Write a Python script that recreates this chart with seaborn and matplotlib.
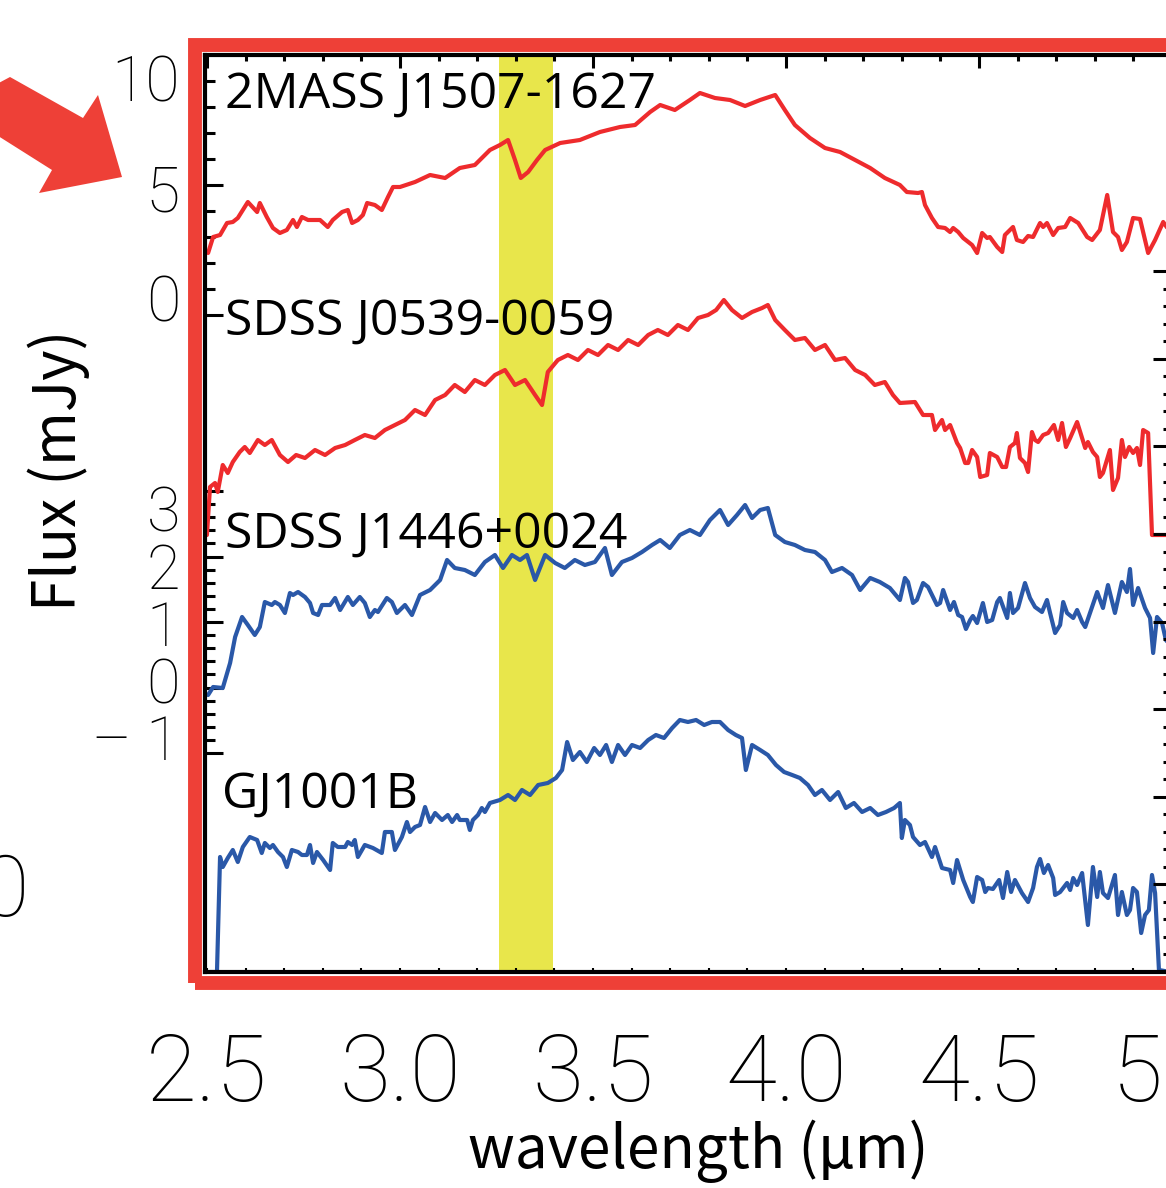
import numpy as np
import matplotlib
matplotlib.use("Agg")
import matplotlib.pyplot as plt
from matplotlib.patches import Rectangle, Polygon
from matplotlib.ticker import MultipleLocator, NullFormatter
import seaborn as sns

sns.set_style("white")
plt.rcParams['font.family'] = ['Open Sans', 'DejaVu Sans']

# ---------------- data (wavelength in micron, flux + offset in arbitrary units) -------------
names = ["2MASS J1507-1627", "SDSS J0539-0059", "SDSS J1446+0024", "GJ1001B"]
colors = ["#ee2b2d", "#ee2b2d", "#2a58a8", "#2a58a8"]

wl_2mass = [2.503,2.516,2.534,2.552,2.567,2.580,2.606,2.630,2.637,2.655,2.671,2.689,2.707,2.723,2.733,2.746,2.762,2.793,2.813,2.826,2.850,2.865,2.876,2.891,2.904,2.915,2.935,2.953,2.969,2.982,3.000,
            3.039,3.078,3.117,3.155,3.194,3.233,3.259,3.280,3.298,3.313,3.332,3.355,3.376,3.415,3.466,3.518,3.570,3.609,3.648,3.674,3.712,3.751,3.777,3.816,3.855,3.894,3.933,3.972,3.997,4.023,4.062,4.101,4.140,4.179,4.218,4.256,
            4.295,4.313,4.342,4.352,4.360,4.378,4.394,4.412,4.425,4.433,4.446,4.459,4.482,4.495,4.508,4.521,4.528,4.547,4.560,4.567,4.588,4.598,4.614,4.627,4.640,4.658,4.666,4.676,4.692,4.705,4.723,4.736,4.757,4.780,4.793,4.813,4.832,4.847,4.860,4.870,4.883,4.899,4.917,4.938,4.956,4.977,4.995]
fx_2mass = [71.9,73.5,73.7,74.9,75.0,75.4,77.0,76.0,76.9,75.5,74.4,73.9,74.2,75.2,74.5,75.5,75.2,75.2,74.5,75.2,76.0,76.2,74.9,75.2,75.7,76.9,76.7,76.2,77.5,78.5,78.5,
            79.0,79.7,79.4,80.4,80.7,82.2,82.7,83.2,81.2,79.4,80.0,81.2,82.2,82.9,83.2,84.0,84.5,84.7,86.0,86.7,86.2,87.2,87.9,87.4,87.2,86.6,87.2,87.7,86.2,84.7,83.4,82.4,82.0,81.2,80.4,79.4,
            78.7,78.0,77.9,78.0,76.7,75.4,74.5,74.4,74.0,74.4,74.0,73.4,72.7,71.9,73.9,73.4,73.5,72.5,72.0,73.7,74.5,73.2,73.0,73.6,73.5,74.9,74.5,74.9,73.7,74.4,74.5,75.4,74.9,73.5,73.2,74.2,77.7,74.0,73.5,72.2,73.0,75.4,75.3,71.9,73.2,75.0,74.0]

wl_j0539 = [2.500,2.508,2.521,2.528,2.541,2.554,2.567,2.585,2.598,2.611,
            2.632,2.650,2.668,2.689,2.710,2.731,2.754,2.780,2.806,2.832,2.858,2.883,2.909,2.935,2.961,2.987,3.013,3.039,3.065,3.091,
            3.117,3.142,3.168,3.194,3.220,3.246,3.272,3.298,3.324,3.350,3.368,3.383,3.409,3.435,3.461,3.487,3.513,3.539,3.565,3.591,
            3.617,3.643,3.668,3.694,3.720,3.746,3.772,3.798,3.819,3.839,3.860,3.886,3.912,3.938,3.953,3.972,3.997,4.023,4.049,4.075,
            4.101,4.127,4.153,4.179,4.205,4.230,4.256,4.277,
            4.295,4.334,4.355,4.378,4.386,4.404,4.412,4.425,4.443,4.451,4.464,4.472,4.482,4.495,4.503,4.521,4.528,4.547,4.560,4.570,
            4.580,4.593,4.598,4.606,4.619,4.627,4.637,4.645,4.653,4.666,4.679,4.694,4.705,4.715,4.725,4.736,4.754,4.767,4.775,4.782,
            4.795,4.806,4.813,4.821,4.839,4.847,4.860,4.870,4.878,4.889,4.899,4.909,4.917,4.925,4.938,4.948,4.995]
fx_j0539 = [43.7,48.5,48.9,48.0,50.7,49.9,51.0,52.0,52.5,51.9,
            53.2,52.7,53.2,51.7,51.0,51.7,51.4,52.2,51.7,52.4,52.7,53.2,53.7,53.4,54.2,54.7,55.2,56.2,55.7,57.2,
            57.7,58.7,58.0,59.2,58.7,59.7,60.2,58.7,59.2,57.7,56.7,60.0,61.2,61.7,61.2,62.2,61.7,62.7,62.2,63.2,
            62.7,63.7,64.2,63.7,64.7,64.2,65.4,65.7,66.2,67.2,66.2,65.4,66.0,66.4,66.7,65.2,64.2,63.2,63.4,62.2,
            62.7,61.2,61.4,60.2,59.7,58.7,59.0,57.7,
            56.9,57.0,55.7,55.7,54.2,55.2,54.2,54.7,52.9,52.4,50.9,50.9,52.2,51.5,49.5,49.7,51.9,51.5,50.5,50.5,
            52.5,52.9,53.9,51.4,50.9,50.0,54.0,53.2,53.0,53.7,53.9,54.7,53.2,54.9,52.5,53.4,55.0,53.4,52.4,53.0,
            52.0,51.5,49.5,49.9,52.2,48.2,49.4,53.2,51.5,52.5,51.9,52.4,50.7,54.2,53.9,43.7,43.7]

wl_j1446 = [2.503,2.516,2.541,2.560,2.573,2.591,2.606,2.624,2.637,2.650,2.668,2.676,2.689,2.702,2.715,2.723,2.736,2.754,2.767,2.775,
            2.788,2.798,2.819,2.832,2.845,2.865,2.878,2.896,2.909,2.922,2.935,2.943,2.966,2.979,2.992,
            3.013,3.031,3.052,3.078,3.104,3.122,3.142,3.168,3.194,3.220,3.246,3.267,3.290,3.311,3.329,3.350,3.376,3.402,3.427,3.453,
            3.479,3.505,3.531,3.549,3.575,3.601,3.627,3.653,3.674,3.699,3.725,3.751,3.777,3.803,3.829,3.850,3.873,3.894,3.912,3.933,
            3.953,3.972,3.997,4.023,4.049,4.075,4.101,4.119,4.145,4.171,4.192,4.218,4.243,4.269,
            4.295,4.308,4.316,4.329,4.339,4.355,4.368,4.391,4.399,4.407,4.425,4.435,4.446,4.456,4.466,4.477,4.484,4.495,4.510,4.521,
            4.534,4.547,4.554,4.573,4.580,4.588,4.601,4.619,4.632,4.645,4.663,4.676,4.684,4.697,4.710,4.718,4.728,4.744,4.754,4.767,
            4.775,4.806,4.821,4.834,4.852,4.870,4.883,4.891,4.899,4.912,4.930,4.943,4.951,4.961,4.974,4.984,4.995]
fx_j1446 = [27.7,28.5,28.4,30.9,33.5,35.5,34.7,33.7,34.5,37.0,36.7,37.0,36.7,35.9,37.9,37.7,38.0,37.5,36.9,35.9,
            35.7,36.7,36.7,37.4,36.2,37.5,36.7,37.5,36.9,35.5,36.2,36.0,37.4,37.0,35.9,
            36.7,35.7,37.7,38.2,39.2,41.2,40.4,40.2,39.7,41.0,41.7,40.4,41.7,41.2,41.7,39.2,41.7,40.9,40.4,41.2,
            40.7,41.0,42.4,39.7,41.0,41.4,42.0,42.7,43.2,42.4,43.7,44.2,43.7,45.2,46.2,44.7,45.7,46.7,45.4,46.2,
            46.4,43.7,43.0,42.7,42.2,42.0,41.2,40.0,40.4,39.7,38.2,39.4,39.0,38.4,
            37.2,39.4,39.0,36.9,37.2,38.9,38.5,36.7,36.9,38.2,36.2,37.0,35.7,35.5,34.3,35.2,35.6,34.9,36.9,35.0,
            35.2,37.0,37.4,35.4,37.9,35.9,36.4,38.9,37.4,36.5,36.0,37.2,35.9,33.9,34.7,37.0,35.9,35.4,36.2,35.0,
            34.5,38.0,36.4,38.7,35.9,39.0,38.0,40.3,36.7,38.4,36.4,35.4,31.9,35.5,34.9,33.2,32.7]

wl_gj1001b = [2.508,2.526,2.534,2.541,2.554,2.567,2.580,2.593,2.611,2.630,2.642,2.650,2.663,2.671,2.684,2.697,2.707,2.720,2.736,2.746,
              2.759,2.767,2.775,2.785,2.801,2.819,2.826,2.839,2.858,2.865,2.876,2.883,2.891,2.909,2.930,2.953,2.961,2.979,2.987,3.005,
              3.018,3.026,3.039,3.052,3.065,3.078,3.091,3.109,3.124,3.135,3.148,3.155,3.174,3.181,3.189,3.202,3.212,3.220,3.233,3.259,
              3.280,3.298,3.316,3.337,3.358,3.383,3.404,3.420,3.433,3.448,3.466,3.484,3.503,3.518,3.534,3.549,3.565,3.583,3.601,3.622,
              3.643,3.663,3.684,3.705,3.725,3.746,3.767,3.788,3.808,3.829,3.850,3.870,3.886,3.896,3.912,3.933,3.953,3.974,3.995,4.016,
              4.036,4.057,4.075,4.093,4.114,4.135,4.155,4.176,4.197,4.218,4.238,4.259,4.280,
              4.295,4.300,4.308,4.321,4.329,4.347,4.360,4.378,4.386,4.404,4.425,4.433,4.443,4.459,4.477,4.484,4.495,4.508,4.516,4.523,
              4.536,4.552,4.562,4.573,4.583,4.593,4.611,4.627,4.640,4.650,4.658,4.668,4.679,4.692,4.697,4.710,4.728,4.736,4.744,4.754,
              4.767,4.782,4.795,4.806,4.813,4.821,4.834,4.852,4.860,4.870,4.883,4.891,4.899,4.909,4.920,4.930,4.940,4.948,4.956,4.966,4.995]
fx_gj1001b = [0.0,0.0,11.5,10.5,11.4,12.2,11.0,12.5,13.5,13.2,11.9,12.9,12.4,12.7,12.0,11.5,10.5,12.2,12.0,11.7,
              11.7,12.7,10.9,12.0,11.2,10.2,12.9,12.5,12.5,13.0,12.7,13.2,11.5,12.7,12.4,11.9,14.0,14.0,12.2,13.5,
              15.0,14.0,14.5,14.7,16.5,15.0,15.9,15.2,15.7,15.0,15.7,15.2,15.2,14.2,15.2,15.7,16.4,16.0,16.9,17.2,
              17.7,17.2,18.2,17.7,18.7,18.9,19.4,20.2,23.0,21.2,22.0,21.0,22.4,21.7,22.7,21.0,22.7,21.7,22.7,22.4,
              23.2,23.7,23.4,24.4,25.2,25.0,25.2,24.7,25.0,25.0,24.2,23.7,23.4,20.2,22.7,22.2,21.7,20.7,20.0,19.7,
              19.4,18.7,17.7,18.2,17.2,18.0,16.4,16.9,16.0,16.4,15.7,16.0,16.4,
              16.9,13.4,15.2,14.7,13.5,12.7,13.0,11.5,12.5,10.4,10.2,8.9,11.2,9.2,7.5,7.0,9.5,9.2,8.0,8.4,
              8.3,9.2,7.4,10.0,8.0,9.2,7.9,7.0,8.4,10.5,11.3,9.9,10.7,9.4,7.7,8.0,8.9,8.2,9.4,8.7,
              9.9,4.7,10.5,7.5,10.0,7.9,7.4,9.7,5.7,8.0,5.7,6.2,8.4,8.0,3.9,5.7,6.2,9.7,7.9,0.2,0.0]

label_x = [2.547, 2.547, 2.547, 2.539]
label_y = [86.4, 63.7, 42.4, 16.4]

band = (3.256, 3.396)
x_major = [2.5, 3.0, 3.5, 4.0, 4.5, 5.0]
x_labels = ["2.5", "3.0", "3.5", "4.0", "4.5", "5.0"]
left_lab_top = [0, 5, 10]
left_lab_bot = [-1, 0, 1, 2, 3]
left_lab_bot_txt = ["\u2013 1", "0", "1", "2", "3"]

# ---------------- figure -------------
W, H = 1166, 1188
fig = plt.figure(figsize=(W / 100, H / 100), dpi=100)
rect = [205 / W, 1 - 972 / H, 969 / W, 917 / H]
ax = fig.add_axes(rect)
ax.set_xlim(2.495, 5.005)
ax.set_ylim(0, 91.7)
ax.axvspan(*band, color="#e8e64b", lw=0, zorder=0)

spectra = [(wl_2mass, fx_2mass), (wl_j0539, fx_j0539), (wl_j1446, fx_j1446), (wl_gj1001b, fx_gj1001b)]
for (wl, fx), col in zip(spectra, colors):
    sns.lineplot(x=wl, y=fx, ax=ax, color=col, lw=3, estimator=None, sort=False, legend=False)

for nm, lx, ly in zip(names, label_x, label_y):
    ax.text(lx, ly, nm, fontsize=36, family=["Open Sans", "DejaVu Sans"], color="black",
            va="baseline", ha="left", zorder=5)

for s in ax.spines.values():
    s.set_linewidth(3)
    s.set_color("black")

thin_family = ["Roboto", "DejaVu Sans"]

def style_thin(labels):
    for lbl in labels:
        lbl.set_fontfamily(thin_family)
        lbl.set_fontweight("light")
        lbl.set_color("black")

# bottom ticks + labels
ax.set_xticks(x_major, labels=x_labels)
ax.xaxis.set_minor_locator(MultipleLocator(0.1))
ax.tick_params(axis="x", which="both", direction="in", length=3, width=1.5, color="black",
               bottom=True, top=False, pad=43, labelsize=67)
style_thin(ax.get_xticklabels())

# left ticks (no labels)
left_major = [65.7, 78.7, 21.9, 28.45, 35.0, 41.55, 48.1]
left_minor = list(np.arange(65.7, 91.0, 2.6)) + list(np.arange(21.9, 48.2, 1.31))
ax.set_yticks(left_major)
ax.set_yticks(left_minor, minor=True)
ax.tick_params(axis="y", which="major", direction="in", length=13, width=2.2, color="black",
               left=True, right=False, labelleft=False)
ax.tick_params(axis="y", which="minor", direction="in", length=7, width=2.2, color="black", left=True, right=False)

# top ticks
sec = ax.secondary_xaxis("top")
sec.set_xticks(x_major)
sec.xaxis.set_minor_locator(MultipleLocator(0.1))
sec.xaxis.set_major_formatter(NullFormatter())
sec.tick_params(which="major", direction="in", length=9.5, width=2.2, color="black")
sec.tick_params(which="minor", direction="in", length=4.5, width=2.2, color="black")
for s in sec.spines.values():
    s.set_visible(False)

# right ticks
axr = ax.twinx()
axr.set_ylim(0, 10.47)
axr.set_yticks(list(range(1, 9)))
axr.set_yticks([v for v in np.arange(0.2, 8.0, 0.2) if abs(v - round(v)) > 1e-6], minor=True)
axr.tick_params(axis="y", which="major", direction="in", length=15, width=2.2, color="black", labelright=False)
axr.tick_params(axis="y", which="minor", direction="in", length=8, width=2.2, color="black")
for s in axr.spines.values():
    s.set_visible(False)

# left label scales
axA = fig.add_axes(rect, frameon=False)
axA.set_ylim(-30.64, 11.05)
axA.set_xticks([])
axA.set_yticks(left_lab_top, labels=[str(v) for v in left_lab_top])
axA.tick_params(axis="y", length=0, pad=18, labelsize=45)
style_thin(axA.get_yticklabels())

axB = fig.add_axes(rect, frameon=False)
axB.set_ylim(-5.12, 10.96)
axB.set_xticks([])
axB.set_yticks(left_lab_bot, labels=left_lab_bot_txt)
axB.tick_params(axis="y", length=0, pad=18, labelsize=44)
style_thin(axB.get_yticklabels())

# axis labels
cond = ["Noto Sans CJK JP", "DejaVu Sans"]
ax.set_ylabel("Flux (mJy)", fontsize=42, family=cond, color="black")
ax.yaxis.set_label_coords(-0.119, 0.547)
ax.set_xlabel("wavelength (\u03bcm)", fontsize=42, family=cond, color="black")
ax.xaxis.label.set_va("baseline")
ax.xaxis.set_label_coords(0.509, -0.214)

# red frame
frame = Rectangle((195 / W, 1 - 983 / H), 1.2, (983 - 45) / H, transform=fig.transFigure,
                  fill=False, edgecolor="#ee4037", lw=10, zorder=10)
fig.add_artist(frame)

# red arrow
arrow_px = [(-5, 85), (10, 77), (83, 118), (98, 95), (122, 177), (39, 193), (52, 170), (-5, 134)]
arrow = Polygon([(x / W, 1 - y / H) for x, y in arrow_px], closed=True, transform=fig.transFigure,
                facecolor="#ee4037", edgecolor="none")
fig.add_artist(arrow)

# cut-off label at lower left
fig.text(5 / W, 1 - 893 / H, "0", ha="center", va="center", fontsize=62,
         family=thin_family, fontweight="light", color="black")

fig.savefig("out.png", dpi=100)
